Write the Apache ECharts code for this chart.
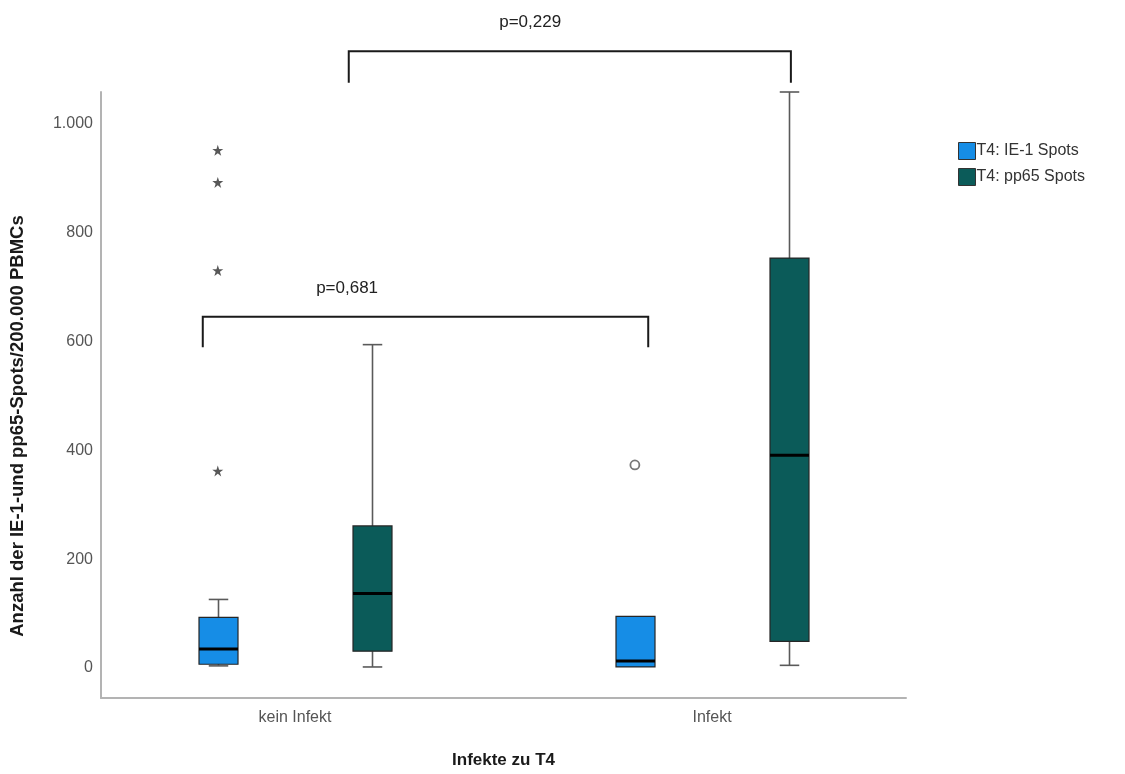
<!DOCTYPE html>
<html>
<head>
<meta charset="utf-8">
<title>Infekte zu T4</title>
<script src="https://cdn.jsdelivr.net/npm/echarts@6/dist/echarts.min.js"></script>
<style>
  html, body { margin: 0; padding: 0; background: #ffffff; }
  #chart { width: 1125px; height: 774px; }
</style>
</head>
<body>
<div id="chart"></div>
<script>
// Groups on the x axis
const categories = ['kein Infekt', 'Infekt'];
const seriesNames = ['T4: IE-1 Spots', 'T4: pp65 Spots'];

// Box statistics per group: [group index, min, Q1, median, Q3, max]
const ie1Boxes = [
  [0, 4, 7, 35, 93, 126],
  [1, 2, 2, 13, 95, 95]
];
const pp65Boxes = [
  [0, 2, 31, 137, 261, 594],
  [1, 5, 49, 391, 753, 1058]
];

// Extreme values (stars) and outliers (circles): [group index, value]
const ie1Extremes = [[0, 951], [0, 892], [0, 730], [0, 362]];
const ie1Outliers = [[1, 373]];

// Y axis tick labels
const yTicks = [0, 200, 400, 600, 800, 1000];

// Significance brackets: label, label centre along x, [left end, right end], [leg bottom, bracket top]
const pLabels = ['p=0,681', 'p=0,229'];
const pLabelX = [0.125, 0.564];
const bracketSpans = [[-0.221, 0.847], [0.129, 1.189]];
const bracketLevels = [[589, 645], [1075, 1133]];

// Layout constants
const GROUP_OFFSET = 0.185;   // distance of each box from its group centre (axis units)
const BOX_WIDTH = 0.0935;     // box width (axis units)
const LABEL_RAISE = 29;       // p-label centre above bracket top (px)

const colors = ['#168de6', '#0b5b59'];
const STAR = 'path://M50,0 L61.8,35.1 L98.9,35.1 L69,56.7 L80.3,91.9 L50,70.2 L19.7,91.9 L31,56.7 L1.1,35.1 L38.2,35.1 Z';

function fmtThousands(v) {
  if (v >= 1000) {
    const r = String(v % 1000).padStart(3, '0');
    return Math.floor(v / 1000) + '.' + r;
  }
  return String(v);
}

function boxRenderer(offset, fill) {
  return function (params, api) {
    const x = api.value(0) + offset;
    const pMin = api.coord([x, api.value(1)]);
    const pQ1 = api.coord([x, api.value(2)]);
    const pMed = api.coord([x, api.value(3)]);
    const pQ3 = api.coord([x, api.value(4)]);
    const pMax = api.coord([x, api.value(5)]);
    const w = api.size([BOX_WIDTH, 0])[0];
    const cap = w / 2;
    const cx = Math.round(pMed[0]) + 0.5;
    const whisker = { stroke: '#5a5a5a', lineWidth: 1.6 };
    const children = [];
    if (pMax[1] < pQ3[1] - 0.5) {
      children.push({ type: 'line', shape: { x1: cx, y1: pMax[1], x2: cx, y2: pQ3[1] }, style: whisker });
      children.push({ type: 'line', shape: { x1: cx - cap / 2, y1: pMax[1], x2: cx + cap / 2, y2: pMax[1] }, style: whisker });
    }
    if (pMin[1] > pQ1[1] + 0.5) {
      children.push({ type: 'line', shape: { x1: cx, y1: pQ1[1], x2: cx, y2: pMin[1] }, style: whisker });
      children.push({ type: 'line', shape: { x1: cx - cap / 2, y1: pMin[1], x2: cx + cap / 2, y2: pMin[1] }, style: whisker });
    }
    children.push({
      type: 'rect',
      shape: { x: cx - w / 2, y: pQ3[1], width: w, height: pQ1[1] - pQ3[1] },
      style: { fill: fill, stroke: '#262626', lineWidth: 1.2 }
    });
    children.push({
      type: 'line',
      shape: { x1: cx - w / 2, y1: pMed[1], x2: cx + w / 2, y2: pMed[1] },
      style: { stroke: '#000000', lineWidth: 3 }
    });
    return { type: 'group', children: children };
  };
}

function bracketRenderer(params, api) {
  const i = params.dataIndex;
  const x1 = api.value(0), x2 = api.value(1), yLeg = api.value(2), yTop = api.value(3);
  const a = api.coord([x1, yLeg]);
  const b = api.coord([x1, yTop]);
  const c = api.coord([x2, yTop]);
  const d = api.coord([x2, yLeg]);
  const mid = api.coord([api.value(4), yTop]);
  return {
    type: 'group',
    children: [
      {
        type: 'polyline',
        shape: { points: [a, b, c, d] },
        style: { stroke: '#1a1a1a', lineWidth: 2, fill: null }
      },
      {
        type: 'text',
        x: mid[0],
        y: mid[1] - LABEL_RAISE,
        style: {
          text: pLabels[i],
          fill: '#222222',
          font: '17px "Liberation Sans", Arial, sans-serif',
          align: 'center',
          verticalAlign: 'middle'
        }
      }
    ]
  };
}

const chart = echarts.init(document.getElementById('chart'), null, { renderer: 'canvas' });

chart.setOption({
  backgroundColor: '#ffffff',
  animation: false,
  textStyle: { fontFamily: '"Liberation Sans", Arial, sans-serif' },
  grid: { left: 101, right: 219, top: 92, bottom: 73, containLabel: false },
  legend: {
    orient: 'vertical',
    left: 953,
    top: 137,
    itemWidth: 17,
    itemHeight: 17,
    itemGap: 8,
    icon: 'rect',
    data: seriesNames,
    itemStyle: { borderColor: '#333333', borderWidth: 1 },
    textStyle: { fontSize: 16, color: '#333333', padding: [0, 0, 0, -4] }
  },
  xAxis: {
    type: 'value',
    min: -0.465,
    max: 1.465,
    name: 'Infekte zu T4',
    nameLocation: 'middle',
    nameGap: 54,
    nameTextStyle: { fontSize: 17, fontWeight: 'bold', color: '#1a1a1a' },
    splitLine: { show: false },
    axisTick: { show: false },
    axisLine: { onZero: false, lineStyle: { color: '#b3b3b3', width: 2 } },
    axisLabel: {
      customValues: [0, 1],
      formatter: function (v) { return categories[Math.round(v)]; },
      fontSize: 16,
      color: '#555555',
      margin: 12
    }
  },
  yAxis: {
    type: 'value',
    min: -55,
    max: 1058,
    name: 'Anzahl der IE-1-und pp65-Spots/200.000 PBMCs',
    nameLocation: 'middle',
    nameGap: 74,
    nameRotate: 90,
    nameTextStyle: {
      fontSize: 18.5,
      fontWeight: 'bold',
      color: '#1a1a1a',
      padding: [0, 62, 0, 0]
    },
    splitLine: { show: false },
    axisTick: { show: false },
    axisLine: { show: true, onZero: false, lineStyle: { color: '#b3b3b3', width: 2 } },
    axisLabel: {
      customValues: yTicks,
      formatter: fmtThousands,
      fontSize: 16,
      color: '#555555',
      margin: 8
    }
  },
  series: [
    {
      name: seriesNames[0],
      type: 'custom',
      renderItem: boxRenderer(-GROUP_OFFSET, colors[0]),
      itemStyle: { color: colors[0], borderColor: '#333333' },
      encode: { x: 0, y: [1, 2, 3, 4, 5] },
      data: ie1Boxes,
      z: 2
    },
    {
      name: seriesNames[1],
      type: 'custom',
      renderItem: boxRenderer(GROUP_OFFSET, colors[1]),
      itemStyle: { color: colors[1], borderColor: '#333333' },
      encode: { x: 0, y: [1, 2, 3, 4, 5] },
      data: pp65Boxes,
      z: 2
    },
    {
      type: 'scatter',
      symbol: STAR,
      symbolSize: 11,
      itemStyle: { color: '#2e2e2e' },
      silent: true,
      data: ie1Extremes.map(function (d) { return [d[0] - GROUP_OFFSET, d[1]]; }),
      z: 3
    },
    {
      type: 'scatter',
      symbol: 'circle',
      symbolSize: 9,
      itemStyle: { color: '#ffffff', borderColor: '#555555', borderWidth: 1.8 },
      silent: true,
      data: ie1Outliers.map(function (d) { return [d[0] - GROUP_OFFSET, d[1]]; }),
      z: 3
    },
    {
      type: 'custom',
      renderItem: bracketRenderer,
      clip: false,
      silent: true,
      encode: { x: [0, 1, 4], y: [2, 3] },
      data: bracketSpans.map(function (s, i) {
        return [s[0], s[1], bracketLevels[i][0], bracketLevels[i][1], pLabelX[i]];
      }),
      z: 4
    }
  ]
});
</script>
</body>
</html>
